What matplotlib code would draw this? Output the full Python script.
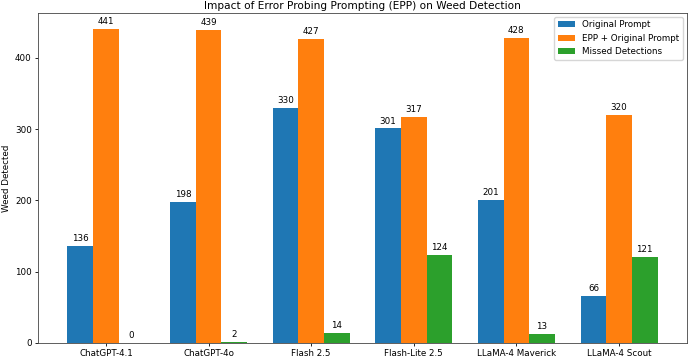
import matplotlib
matplotlib.use("Agg")
import matplotlib.pyplot as plt
import numpy as np

categories = ["ChatGPT-4.1", "ChatGPT-4o", "Flash 2.5", "Flash-Lite 2.5", "LLaMA-4 Maverick", "LLaMA-4 Scout"]
original = [136, 198, 330, 301, 201, 66]
epp = [441, 439, 427, 317, 428, 320]
missed = [0, 2, 14, 124, 13, 121]

plt.rcParams['font.size'] = 6.3
plt.rcParams['axes.linewidth'] = 0.6
plt.rcParams['axes.edgecolor'] = '#444444'
plt.rcParams['xtick.major.size'] = 2.3
plt.rcParams['ytick.major.size'] = 2.3
plt.rcParams['xtick.major.width'] = 0.6
plt.rcParams['ytick.major.width'] = 0.6
plt.rcParams['xtick.major.pad'] = 2.2
plt.rcParams['ytick.major.pad'] = 2.2

fig = plt.figure(figsize=(6.9, 3.58), dpi=100)
ax = fig.add_axes([0.055, 0.042, 0.9407, 0.9217])
x = np.arange(len(categories))
w = 0.25
b1 = ax.bar(x - w, original, w, label="Original Prompt", color="#1f77b4")
b2 = ax.bar(x, epp, w, label="EPP + Original Prompt", color="#ff7f0e")
b3 = ax.bar(x + w, missed, w, label="Missed Detections", color="#2ca02c")
for bars in (b1, b2, b3):
    ax.bar_label(bars, padding=2)
ax.set_xticks(x)
ax.set_xticklabels(categories)
ax.set_ylabel("Weed Detected", labelpad=2.5)
ax.set_title("Impact of Error Probing Prompting (EPP) on Weed Detection", fontsize=7.6, pad=3)
ax.legend(loc="upper right", fontsize=6.3, borderaxespad=0.45)
fig.savefig("out.png", dpi=100)
